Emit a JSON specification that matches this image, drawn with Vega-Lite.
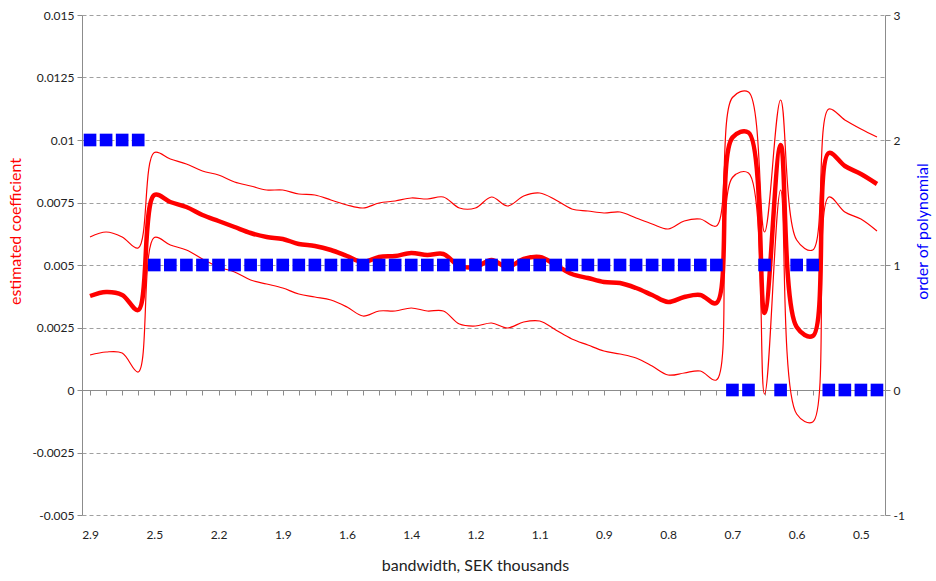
{
  "$schema": "https://vega.github.io/schema/vega-lite/v6.json",
  "width": 803,
  "height": 500,
  "autosize": {"type": "none"},
  "padding": {"left": 82, "top": 15, "right": 51, "bottom": 66},
  "background": "white",
  "config": {"view": {"stroke": null}, "font": "Lato", "axis": {"labelFont": "Lato", "titleFont": "Lato"}},
  "data": {"values": [
    {"bw": 2.9, "est": 0.00376, "upper": 0.00612, "lower": 0.0014, "order": 2},
    {"bw": 2.8, "est": 0.00392, "upper": 0.00632, "lower": 0.00152, "order": 2},
    {"bw": 2.7, "est": 0.0038, "upper": 0.00612, "lower": 0.00148, "order": 2},
    {"bw": 2.6, "est": 0.0032, "upper": 0.00568, "lower": 0.00072, "order": 2},
    {"bw": 2.5, "est": 0.0078, "upper": 0.0095, "lower": 0.0061, "order": 1},
    {"bw": 2.42, "est": 0.00752, "upper": 0.00924, "lower": 0.0058, "order": 1},
    {"bw": 2.34, "est": 0.00732, "upper": 0.00904, "lower": 0.0056, "order": 1},
    {"bw": 2.27, "est": 0.007, "upper": 0.00876, "lower": 0.00524, "order": 1},
    {"bw": 2.2, "est": 0.00676, "upper": 0.0086, "lower": 0.00492, "order": 1},
    {"bw": 2.12, "est": 0.00652, "upper": 0.00832, "lower": 0.00472, "order": 1},
    {"bw": 2.05, "est": 0.00628, "upper": 0.00816, "lower": 0.0044, "order": 1},
    {"bw": 1.98, "est": 0.00612, "upper": 0.008, "lower": 0.00424, "order": 1},
    {"bw": 1.91, "est": 0.00604, "upper": 0.008, "lower": 0.00408, "order": 1},
    {"bw": 1.84, "est": 0.00584, "upper": 0.00784, "lower": 0.00384, "order": 1},
    {"bw": 1.77, "est": 0.00576, "upper": 0.0078, "lower": 0.00372, "order": 1},
    {"bw": 1.71, "est": 0.0056, "upper": 0.0076, "lower": 0.0036, "order": 1},
    {"bw": 1.64, "est": 0.00536, "upper": 0.0074, "lower": 0.00332, "order": 1},
    {"bw": 1.59, "est": 0.00512, "upper": 0.00728, "lower": 0.00296, "order": 1},
    {"bw": 1.53, "est": 0.00532, "upper": 0.00748, "lower": 0.00316, "order": 1},
    {"bw": 1.48, "est": 0.00536, "upper": 0.00756, "lower": 0.00316, "order": 1},
    {"bw": 1.42, "est": 0.00548, "upper": 0.00768, "lower": 0.00328, "order": 1},
    {"bw": 1.37, "est": 0.0054, "upper": 0.00764, "lower": 0.00316, "order": 1},
    {"bw": 1.32, "est": 0.00544, "upper": 0.00772, "lower": 0.00316, "order": 1},
    {"bw": 1.27, "est": 0.00496, "upper": 0.00728, "lower": 0.00264, "order": 1},
    {"bw": 1.22, "est": 0.00492, "upper": 0.00728, "lower": 0.00256, "order": 1},
    {"bw": 1.18, "est": 0.0052, "upper": 0.00772, "lower": 0.00268, "order": 1},
    {"bw": 1.14, "est": 0.00492, "upper": 0.00736, "lower": 0.00248, "order": 1},
    {"bw": 1.1, "est": 0.00524, "upper": 0.00776, "lower": 0.00272, "order": 1},
    {"bw": 1.06, "est": 0.00532, "upper": 0.00788, "lower": 0.00276, "order": 1},
    {"bw": 1.02, "est": 0.005, "upper": 0.0076, "lower": 0.0024, "order": 1},
    {"bw": 0.99, "est": 0.00464, "upper": 0.00724, "lower": 0.00204, "order": 1},
    {"bw": 0.95, "est": 0.00448, "upper": 0.00716, "lower": 0.0018, "order": 1},
    {"bw": 0.92, "est": 0.00432, "upper": 0.00708, "lower": 0.00156, "order": 1},
    {"bw": 0.89, "est": 0.00428, "upper": 0.00712, "lower": 0.00144, "order": 1},
    {"bw": 0.86, "est": 0.00408, "upper": 0.00688, "lower": 0.00128, "order": 1},
    {"bw": 0.83, "est": 0.0038, "upper": 0.00664, "lower": 0.00096, "order": 1},
    {"bw": 0.8, "est": 0.00352, "upper": 0.00644, "lower": 0.0006, "order": 1},
    {"bw": 0.77, "est": 0.00372, "upper": 0.00676, "lower": 0.00068, "order": 1},
    {"bw": 0.74, "est": 0.0038, "upper": 0.00684, "lower": 0.00076, "order": 1},
    {"bw": 0.72, "est": 0.00348, "upper": 0.00656, "lower": 0.0004, "order": 1},
    {"bw": 0.69, "est": 0.0101, "upper": 0.0117, "lower": 0.0085, "order": 0},
    {"bw": 0.67, "est": 0.0103, "upper": 0.01192, "lower": 0.00868, "order": 0},
    {"bw": 0.65, "est": 0.00308, "upper": 0.00632, "lower": -0.00016, "order": 1},
    {"bw": 0.63, "est": 0.0098, "upper": 0.0116, "lower": 0.008, "order": 0},
    {"bw": 0.61, "est": 0.00252, "upper": 0.006, "lower": -0.00096, "order": 1},
    {"bw": 0.59, "est": 0.00216, "upper": 0.0056, "lower": -0.00128, "order": 1},
    {"bw": 0.57, "est": 0.00948, "upper": 0.01124, "lower": 0.00772, "order": 0},
    {"bw": 0.55, "est": 0.00896, "upper": 0.0108, "lower": 0.00712, "order": 0},
    {"bw": 0.53, "est": 0.00864, "upper": 0.01044, "lower": 0.00684, "order": 0},
    {"bw": 0.51, "est": 0.00824, "upper": 0.01012, "lower": 0.00636, "order": 0}
  ]},
  "layer": [
    {
      "encoding": {
        "x": {"field": "bw", "type": "ordinal", "sort": "descending", "scale": {"paddingInner": 0, "paddingOuter": 0},
          "axis": {"orient": "bottom", "offset": -125, "bandPosition": 0, "labels": false, "title": null, "grid": false,
            "domainColor": "#8c8c8c", "tickColor": "#8c8c8c", "tickSize": 5, "domainWidth": 1, "tickWidth": 1}}
      },
      "layer": [
        {
          "mark": {"type": "line", "color": "#ff0000", "strokeWidth": 1.2, "interpolate": "catmull-rom"},
          "encoding": {
            "y": {"field": "upper", "type": "quantitative", "scale": {"domain": [-0.005, 0.015], "nice": false, "zero": false},
              "axis": {"values": [-0.005, -0.0025, 0, 0.0025, 0.005, 0.0075, 0.01, 0.0125, 0.015], "labelExpr": "'' + datum.value",
                "grid": true, "gridDash": [4, 3], "gridColor": "#a0a0a0", "domainColor": "#8c8c8c", "tickColor": "#8c8c8c",
                "tickSize": 5, "labelFontSize": 12, "labelColor": "#222", "labelPadding": 3,
                "title": "estimated coefficient", "titleColor": "#ff0000", "titleFontSize": 16, "titleFontWeight": "normal", "titlePadding": 8, "titleY": 216}}
          }
        },
        {
          "mark": {"type": "line", "color": "#ff0000", "strokeWidth": 1.2, "interpolate": "catmull-rom"},
          "encoding": {"y": {"field": "lower", "type": "quantitative"}}
        },
        {
          "mark": {"type": "line", "color": "#ff0000", "strokeWidth": 4.5, "interpolate": "catmull-rom"},
          "encoding": {"y": {"field": "est", "type": "quantitative"}}
        }
      ]
    },
    {
      "mark": {"type": "point", "shape": "square", "filled": true, "size": 160, "color": "#0000ff", "opacity": 1},
      "encoding": {
        "x": {"field": "bw", "type": "ordinal", "sort": "descending", "scale": {"paddingInner": 0, "paddingOuter": 0},
          "axis": {"orient": "bottom", "values": [2.9, 2.5, 2.2, 1.91, 1.64, 1.42, 1.22, 1.06, 0.92, 0.8, 0.69, 0.61, 0.53],
            "format": ".1f", "domain": false, "ticks": false, "tickSize": 0, "labelPadding": 14, "labelFontSize": 12, "labelColor": "#222",
            "labelAngle": 0, "grid": false,
            "title": "bandwidth, SEK thousands", "titleFontSize": 16, "titleFontWeight": "normal", "titleColor": "#222", "titlePadding": 17, "titleX": 393}},
        "y": {"field": "order", "type": "quantitative", "scale": {"domain": [-1, 3], "nice": false, "zero": false},
          "axis": {"orient": "right", "values": [-1, 0, 1, 2, 3], "labelExpr": "'' + datum.value", "grid": false,
            "domainColor": "#8c8c8c", "tickColor": "#8c8c8c", "tickSize": 5, "labelFontSize": 12, "labelColor": "#222", "labelPadding": 3,
            "title": "order of polynomial", "titleColor": "#0000ff", "titleFontSize": 16, "titleFontWeight": "normal", "titleAngle": 270, "titlePadding": 26, "titleY": 216}}
      }
    }
  ],
  "resolve": {"scale": {"y": "independent"}, "axis": {"x": "independent", "y": "independent"}}
}
